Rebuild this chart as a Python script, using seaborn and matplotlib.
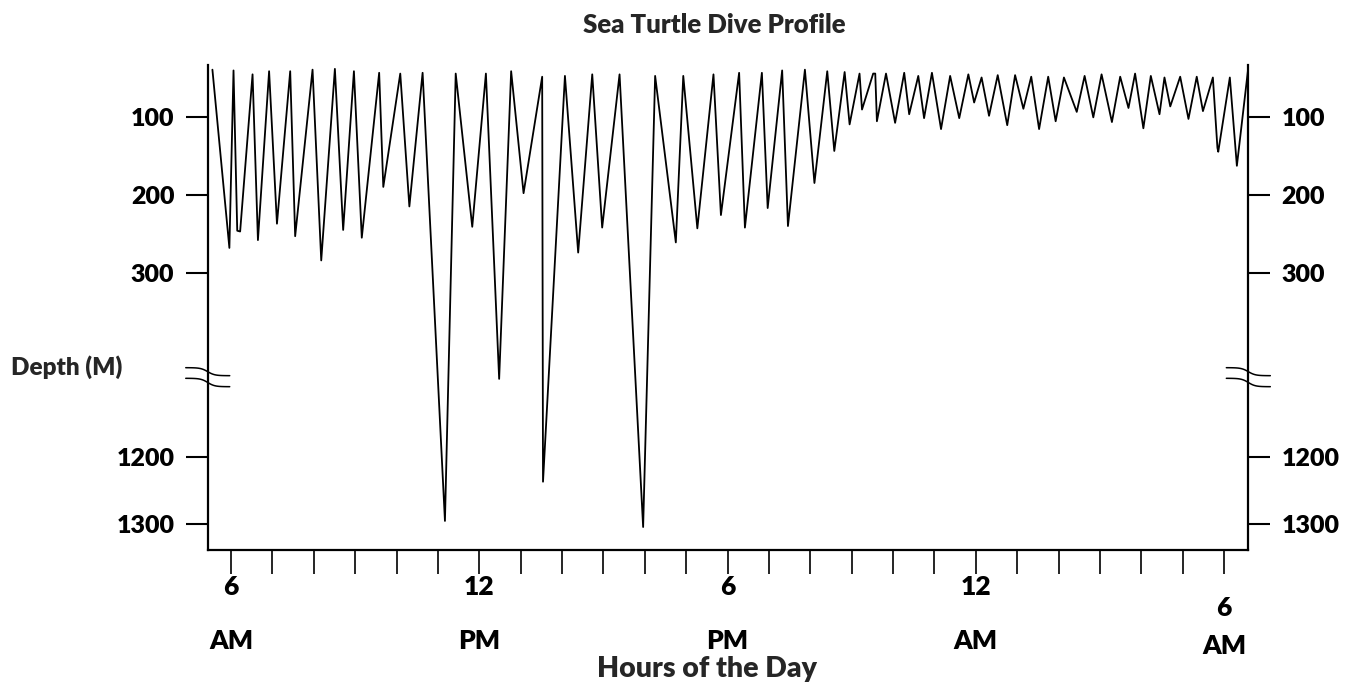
import matplotlib
matplotlib.use("Agg")
import matplotlib.pyplot as plt
import matplotlib.transforms as mtransforms
import numpy as np
import pandas as pd
import seaborn as sns

sns.set_theme(style="ticks")
plt.rcParams["font.family"] = ["Lato", "DejaVu Sans"]
plt.rcParams["font.weight"] = "heavy"

# time in hours from midnight (6 = 6 AM, 30 = 6 AM next day), depth in metres
hours = [
    5.55, 5.96, 6.06, 6.15, 6.22, 6.52, 6.65, 6.92, 7.11, 7.43,
    7.55, 7.97, 8.18, 8.51, 8.71, 8.97, 9.16, 9.58, 9.68, 10.09,
    10.31, 10.63, 11.17, 11.43, 11.83, 12.16, 12.48, 12.77, 13.07, 13.52,
    13.54, 14.07, 14.39, 14.73, 14.97, 15.39, 15.96, 16.25, 16.75, 16.93,
    17.27, 17.66, 17.84, 18.28, 18.42, 18.83, 18.97, 19.32, 19.46, 19.87,
    20.10, 20.41, 20.58, 20.83, 20.95, 21.19, 21.25, 21.52, 21.57, 21.61,
    21.83, 22.05, 22.27, 22.39, 22.61, 22.75, 22.94, 23.16, 23.38, 23.60,
    23.82, 23.96, 24.14, 24.32, 24.53, 24.76, 24.95, 25.15, 25.34, 25.53,
    25.75, 25.93, 26.13, 26.44, 26.63, 26.84, 27.04, 27.29, 27.49, 27.69,
    27.85, 28.05, 28.23, 28.44, 28.56, 28.70, 28.94, 29.14, 29.34, 29.49,
    29.73, 29.84, 29.86, 30.14, 30.31, 30.58,
]
depth = [
    40, 268, 41, 246, 247, 46, 258, 42, 237, 42,
    253, 40, 284, 39, 245, 42, 255, 44, 190, 45,
    215, 44, 1295, 45, 241, 45, 1078, 42, 198, 49,
    1237, 48, 274, 46, 242, 46, 1304, 48, 261, 48,
    243, 46, 226, 44, 242, 44, 217, 41, 240, 40,
    185, 42, 144, 43, 110, 45, 91, 45, 45, 106,
    45, 108, 44, 97, 48, 102, 44, 116, 48, 102,
    46, 82, 50, 99, 47, 111, 47, 90, 49, 116,
    49, 106, 50, 94, 48, 101, 46, 107, 49, 89,
    45, 115, 48, 97, 50, 87, 49, 103, 49, 93,
    50, 140, 145, 50, 163, 40,
]
depth_ticks = [100, 200, 300, 1200, 1300]
hour_ticks = list(range(6, 31))
hour_labels = {6: "6\nAM", 12: "12\nPM", 18: "6\nPM", 24: "12\nAM", 30: "6\nAM"}

df = pd.DataFrame({"hour": hours, "depth": depth})

# broken depth axis: 0-430 m on top, 1085 m and deeper below
brk = np.array([-1000, 430, 1085, 5000])
pos = np.array([116.7 + (-1100) * 0.7815, 116.7 + 330 * 0.7815,
                456.7 - 115 * 0.676, 456.7 + 3800 * 0.676])


def fwd(d):
    return np.interp(d, brk, pos)


def inv(p):
    return np.interp(p, pos, brk)


fig = plt.figure(figsize=(13.56, 6.92), dpi=100)
ax = fig.add_axes([0.1532, 0.2052, 0.7674, 0.7009])

sns.lineplot(data=df, x="hour", y="depth", ax=ax, color="black", lw=1.3,
             sort=False, estimator=None)

ax.set_yscale("function", functions=(fwd, inv))
ax.set_ylim(1338, 34)
ax.set_xlim(5.437, 30.587)
ax.set_yticks(depth_ticks)
ax.set_yticklabels([str(t) for t in depth_ticks])
ax.set_xticks(hour_ticks)
ax.set_xticklabels([hour_labels.get(h, "") for h in hour_ticks])

ax.set_xlabel("")
ax.set_ylabel("")
ax.spines["top"].set_visible(False)
for s in ["left", "right", "bottom"]:
    ax.spines[s].set_linewidth(1.6)
    ax.spines[s].set_color("black")
ax.tick_params(axis="y", direction="out", length=16, width=1.5, pad=8,
               labelsize=18, left=True, right=True, labelright=True, colors="black")
ax.tick_params(axis="x", direction="out", length=17, width=1.2, pad=1,
               labelsize=19, colors="black")

xlabs = ax.get_xticklabels()
for lab in xlabs:
    lab.set_linespacing(2.5)
# the last "6 AM" sits a bit lower and tighter
xlabs[-1].set_linespacing(1.7)
xlabs[-1].set_transform(xlabs[-1].get_transform()
                        + mtransforms.ScaledTranslation(0, -21 / 100, fig.dpi_scale_trans))

# break marks across both depth spines
t = np.linspace(-22, 22, 60)
s = 0.5 + 0.5 * np.tanh(t / 7)
w = 1040.6
for x0 in [0.0, 1.0]:
    xs = x0 + t / w
    ax.plot(xs, 0.3759 - s * 0.0165, color="black", lw=1.1,
            transform=ax.transAxes, clip_on=False)
    ax.plot(xs, 0.3540 - s * 0.0173, color="black", lw=1.1,
            transform=ax.transAxes, clip_on=False)

fig.text(714 / 1356, 1 - 25 / 692, "Sea Turtle Dive Profile", ha="center", va="center",
         fontsize=18.5)
fig.text(67 / 1356, 1 - 367 / 692, "Depth (M)", ha="center", va="center",
         fontsize=17.5)
fig.text(707 / 1356, 1 - 669 / 692, "Hours of the Day", ha="center", va="center",
         fontsize=20.5)

fig.savefig("out.png", dpi=100)
